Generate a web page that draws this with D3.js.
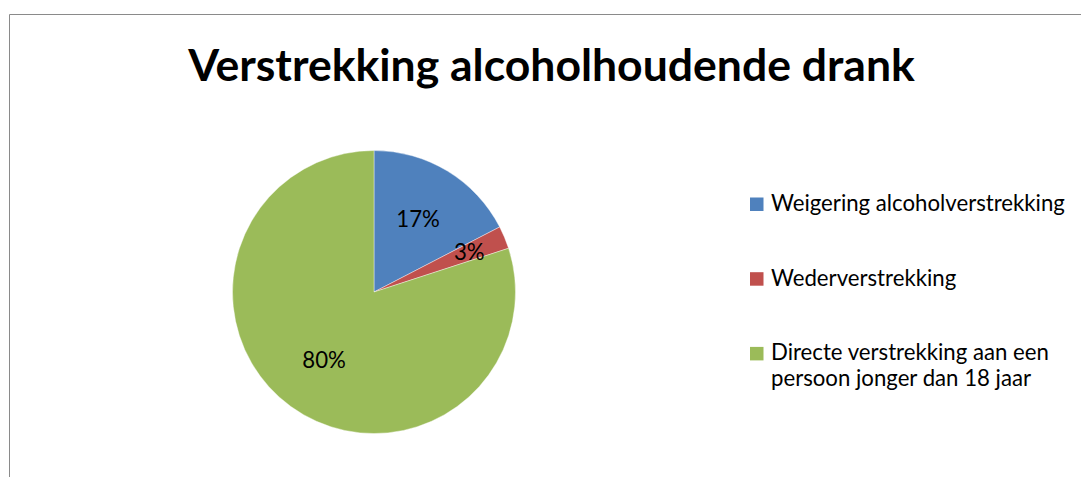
<!DOCTYPE html>
<html>
<head>
<meta charset="utf-8">
<script src="https://cdn.jsdelivr.net/npm/d3@7"></script>
<style>
  html, body { margin: 0; padding: 0; background: #fff; }
  svg { display: block; }
</style>
</head>
<body>
<div id="chart"></div>
<script>
// ===== Verstrekking alcoholhoudende drank (pie) =====

const title = 'Verstrekking alcoholhoudende drank';
const categories = [
  'Weigering alcoholverstrekking',
  'Wederverstrekking',
  'Directe verstrekking aan een persoon jonger dan 18 jaar'
];
// legend text, wrapped as in the original
const legendLines = [
  ['Weigering alcoholverstrekking'],
  ['Wederverstrekking'],
  ['Directe verstrekking aan een', 'persoon jonger dan 18 jaar']
];
const values = [17.4, 2.6, 80];
const colors = ['#4F81BD', '#C0504D', '#9BBB59'];

const W = 1081, H = 477;
const font = "Lato, 'Open Sans', sans-serif";

const svg = d3.select('#chart').append('svg')
  .attr('width', W)
  .attr('height', H);

// chart area border (runs off the right and bottom of the window)
svg.append('path')
  .attr('d', `M9.5,${H + 5} L9.5,14.5 L${W + 5},14.5`)
  .attr('fill', 'none')
  .attr('stroke', '#8a8a8a')
  .attr('stroke-width', 1);

// title, sized to span the same width as the original
const titleText = svg.append('text')
  .attr('x', 551.5)
  .attr('y', 81)
  .attr('text-anchor', 'middle')
  .attr('font-family', font)
  .attr('font-weight', 700)
  .attr('font-size', 40)
  .attr('fill', '#000')
  .text(title);
const tw = titleText.node().getComputedTextLength();
titleText.attr('font-size', 40 * 727 / tw);

// pie
const cx = 374, cy = 292, R = 141.5;
const total = d3.sum(values);

const pie = d3.pie().sort(null).value(d => d)(values);
const arc = d3.arc().innerRadius(0).outerRadius(R);

const g = svg.append('g').attr('transform', `translate(${cx},${cy})`);

g.selectAll('path.slice')
  .data(pie)
  .join('path')
  .attr('class', 'slice')
  .attr('d', arc)
  .attr('fill', (d, i) => colors[i])
  .attr('stroke', '#fff')
  .attr('stroke-width', 0.4);

// label size: fit the first legend entry to its original width
const probe = svg.append('text')
  .attr('font-family', font)
  .attr('font-size', 20)
  .text(legendLines[0][0]);
const fs = 20 * 294 / probe.node().getComputedTextLength();
probe.remove();

const labelArc = d3.arc().innerRadius(R * 0.6).outerRadius(R * 0.6);
const smallArc = d3.arc().innerRadius(R * 0.73).outerRadius(R * 0.73);

g.selectAll('text.lbl')
  .data(pie)
  .join('text')
  .attr('class', 'lbl')
  .attr('transform', d => {
    const share = d.value / total;
    const c = share < 0.05 ? smallArc.centroid(d) : labelArc.centroid(d);
    return `translate(${c[0]},${c[1]})`;
  })
  .attr('text-anchor', 'middle')
  .attr('dy', '0.35em')
  .attr('font-family', font)
  .attr('font-size', fs)
  .attr('fill', '#000')
  .text(d => Math.round(d.value / total * 100) + '%');

// legend
const legend = svg.append('g').attr('transform', 'translate(750,197.5)');
const item = legend.selectAll('g')
  .data(categories)
  .join('g')
  .attr('transform', (d, i) => `translate(0,${i * 74.7})`);

item.append('rect')
  .attr('width', 13.5)
  .attr('height', 13.5)
  .attr('fill', (d, i) => colors[i]);

item.append('text')
  .attr('x', 21)
  .attr('y', 13.3)
  .attr('font-family', font)
  .attr('font-size', fs)
  .attr('fill', '#000')
  .selectAll('tspan')
  .data((d, i) => legendLines[i])
  .join('tspan')
  .attr('x', 21)
  .attr('dy', (d, j) => j === 0 ? 0 : 25.5)
  .text(d => d);
</script>
</body>
</html>
